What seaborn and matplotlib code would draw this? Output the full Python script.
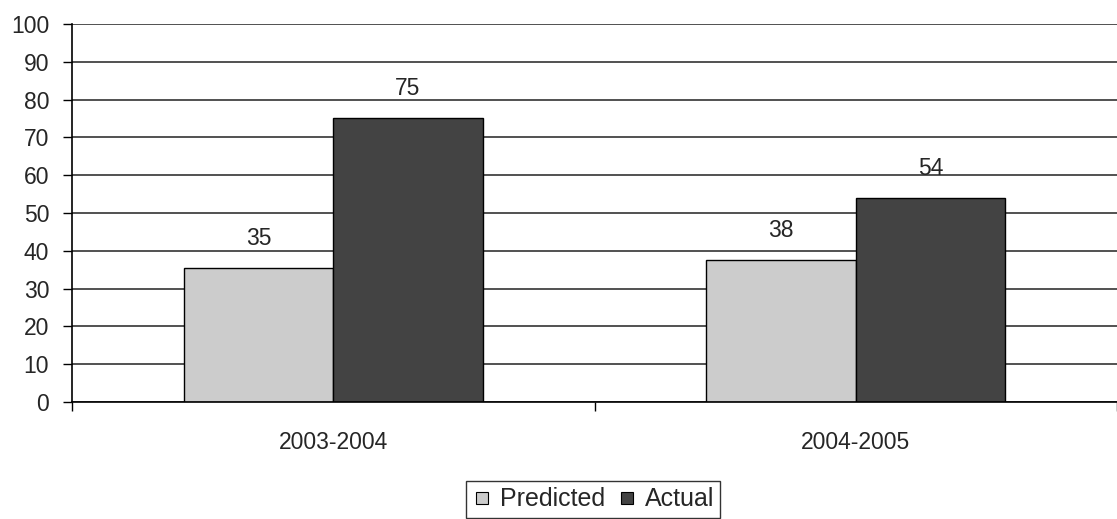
import pandas as pd
import matplotlib
matplotlib.use("Agg")
import matplotlib.pyplot as plt
from matplotlib.lines import Line2D
import seaborn as sns

# Chart data
years = ["2003-2004", "2004-2005"]
predicted = [35.4, 37.6]
actual = [75.0, 53.9]
series = ["Predicted", "Actual"]
colors = ["#cccccc", "#434343"]

df = pd.DataFrame({
    "Year": years * 2,
    "Series": [series[0]] * len(years) + [series[1]] * len(years),
    "Value": predicted + actual,
})

sns.set_style("white")
plt.rcParams["font.family"] = ["Liberation Sans", "DejaVu Sans"]
fs = 16.5

fig = plt.figure(figsize=(11.17, 5.19), dpi=100)
ax = fig.add_axes([0.0645, 0.2254, 0.9355, 0.7284])

sns.barplot(data=df, x="Year", y="Value", hue="Series", palette=colors,
            width=0.572, gap=0, edgecolor="black", linewidth=1.0,
            legend=False, ax=ax)

# value labels (rounded, as in the original)
for cont in ax.containers:
    ax.bar_label(cont, labels=[f"{v:.0f}" for v in cont.datavalues],
                 padding=13, fontsize=fs)

ax.set_ylim(0, 100)
ax.set_xlim(-0.5, len(years) - 0.5)
ax.set_yticks(range(0, 101, 10))
ax.yaxis.grid(True, color="#333333", linewidth=1.2)
ax.set_axisbelow(True)
ax.set_xlabel("")
ax.set_ylabel("")

ax.tick_params(axis="y", labelsize=fs, length=6.5, width=1, color="black",
               left=True, pad=10)
ax.tick_params(axis="x", which="major", labelsize=fs, length=0, pad=21)
ax.set_xticks([i - 0.5 for i in range(len(years) + 1)], minor=True)
ax.tick_params(axis="x", which="minor", length=6.5, width=1, color="black",
               bottom=True)

for s in ["top", "right"]:
    ax.spines[s].set_visible(False)
for s in ["left", "bottom"]:
    ax.spines[s].set_color("black")
    ax.spines[s].set_linewidth(1.2)

handles = [Line2D([], [], marker="s", linestyle="", markersize=9,
                  markerfacecolor=c, markeredgecolor="black", markeredgewidth=0.8)
           for c in colors]
leg = fig.legend(handles, series, loc="center", bbox_to_anchor=(0.531, 0.038),
                 ncol=2, fontsize=18, frameon=True, fancybox=False,
                 handletextpad=0.3, columnspacing=0.5, handlelength=0.8,
                 borderpad=0.25)
leg.get_frame().set_edgecolor("black")
leg.get_frame().set_linewidth(1.0)

fig.savefig("out.png", dpi=100)
